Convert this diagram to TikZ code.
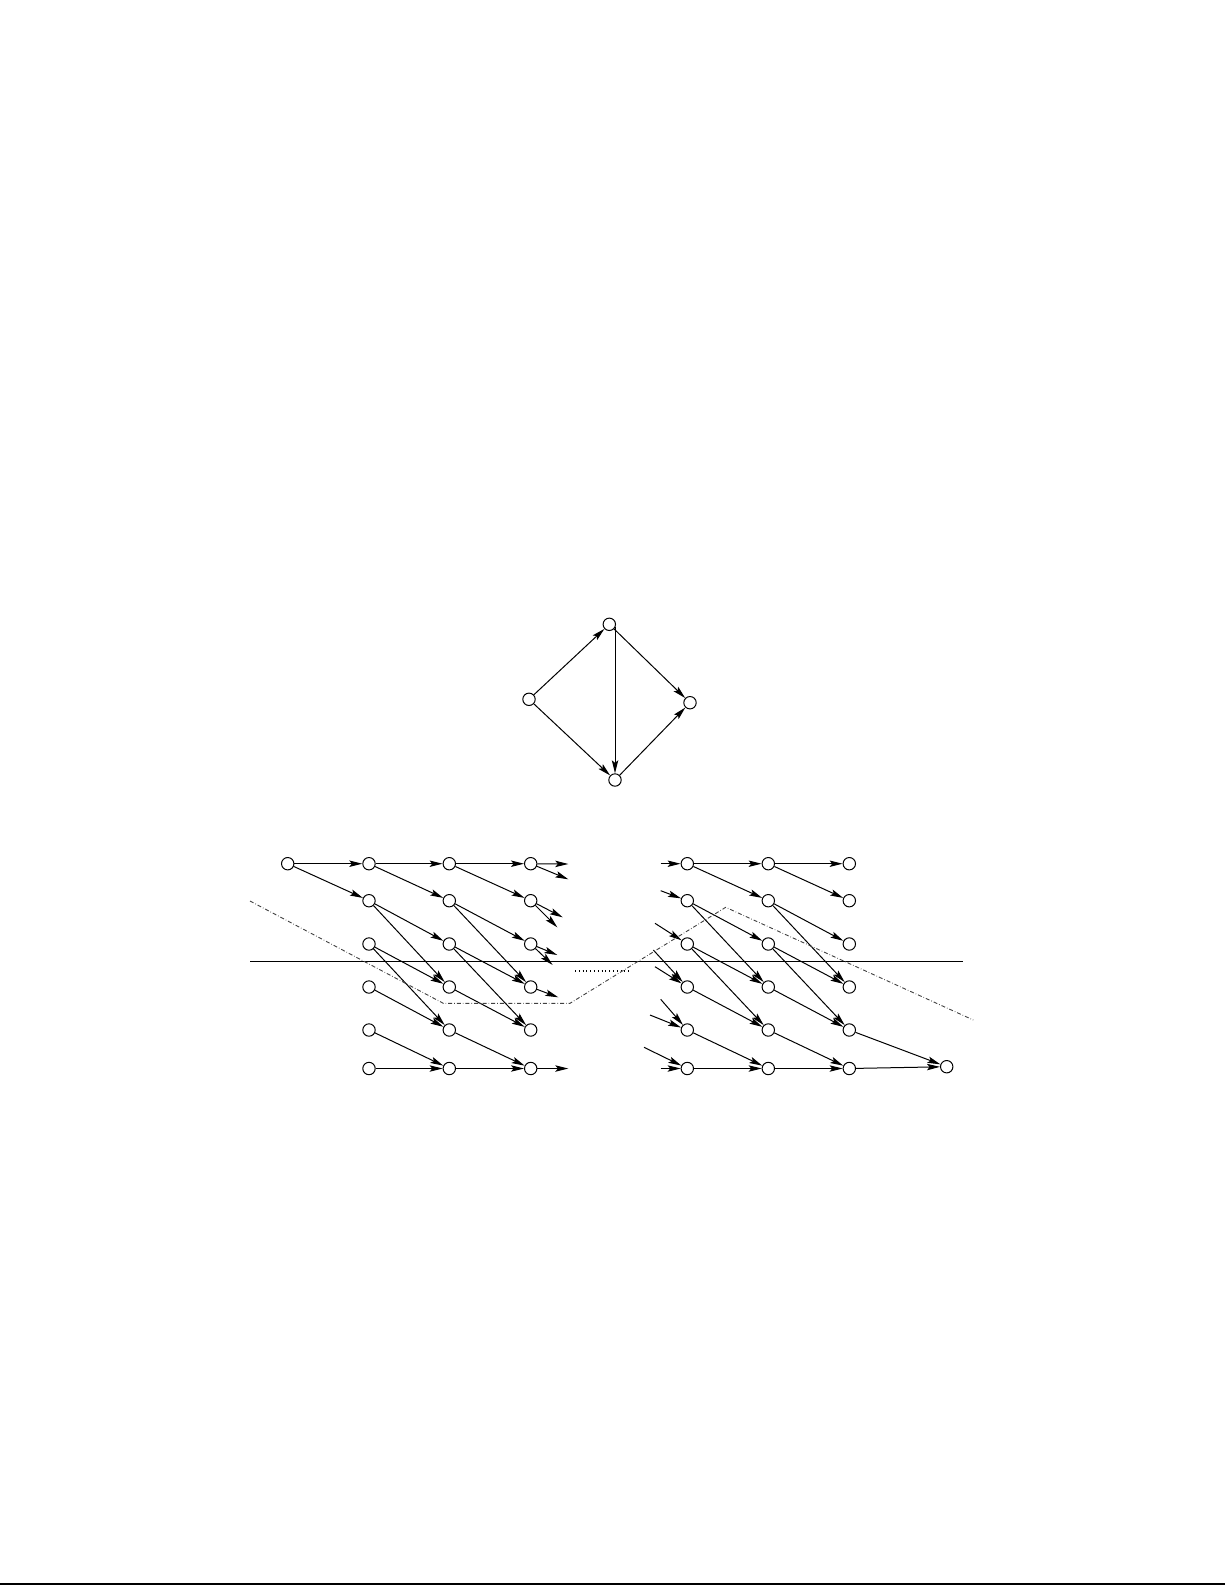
\documentclass[tikz,border=0pt]{standalone}
\usetikzlibrary{arrows.meta}
\begin{document}
\begin{tikzpicture}[x=0.5pt,y=-0.5pt,
  vtx/.style={circle,draw,line width=0.5pt,minimum size=6.2pt,inner sep=0pt},
  edge/.style={line width=0.5pt,-{Stealth[length=6.5pt,width=3.2pt,inset=1.3pt]}},
  cut/.style={line width=0.7pt},
  dashdot/.style={line width=0.45pt,black!75,dash pattern=on 2pt off 1pt on 0.3pt off 1pt},
  dots/.style={line width=0.6pt,dash pattern=on 0.5pt off 1.4pt}]
\useasboundingbox (0,0) rectangle (1225,1585);
% page rule
\coordinate (pl) at (0,1583.7); \coordinate (pr) at (1225,1583.7);
\draw[line width=1pt] (pl) -- (pr);
% ---------- diamond ----------
\node[vtx] (dt) at (609.3,624.3) {};
\node[vtx] (dl) at (529,699.3) {};
\node[vtx] (dr) at (690,702.7) {};
\node[vtx] (db) at (615,780) {};
\draw[edge] (dl) -- (dt);
\draw[edge] (dl) -- (db);
\draw[edge] (db |- dt.-25) -- (db);
\draw[edge] (dt) -- (dr);
\draw[edge] (db) -- (dr);
% ---------- lattice ----------
\def\rowy#1{\ifcase#1 863.7\or 900.7\or 944\or 987\or 1030\or 1068.5\fi}
\node[vtx] (a00) at (287.7,863.7) {};
\foreach \c/\x in {1/369,2/449.3,3/530.7,4/687.3,5/768.3,6/849.3}{
  \foreach \r in {0,...,5}{
    \node[vtx] (a\r\c) at (\x,\rowy{\r}) {};
  }
}
\node[vtx] (a57) at (946.7,1066.7) {};
% block edges
\foreach \s/\t in {00/01,00/11,01/02,01/12,02/03,02/13,
  11/22,11/32,12/23,12/33,21/32,21/42,22/33,22/43,
  31/42,32/43,41/52,42/53,51/52,52/53,
  04/05,04/15,05/06,05/16,14/25,14/35,15/26,15/36,
  24/35,24/45,25/36,25/46,34/45,35/46,44/55,45/56,
  54/55,55/56,56/57,46/57}{
  \draw[edge] (a\s) -- (a\t);
}
% outgoing stubs
\coordinate (o1) at (568.3,864);
\coordinate (o2) at (568.3,879.3);
\coordinate (o3) at (562.7,917.3);
\coordinate (o4) at (557.3,927.3);
\coordinate (o5) at (557.3,955);
\coordinate (o6) at (552.7,965);
\coordinate (o7) at (558.3,997.3);
\coordinate (o8) at (568.3,1068.5);
\foreach \s/\t in {03/o1,03/o2,13/o3,13/o4,23/o5,23/o6,33/o7,53/o8}{
  \draw[edge] (a\s) -- (\t);
}
% incoming stubs
\coordinate (i1) at (660.7,863.7);
\coordinate (i2) at (660.7,890.7);
\coordinate (i3) at (655,923.3);
\coordinate (i4) at (655,966.7);
\coordinate (i5) at (653.3,950);
\coordinate (i6) at (650,1015);
\coordinate (i7) at (660.7,999.3);
\coordinate (i8) at (644,1047.3);
\coordinate (i9) at (660.7,1068.5);
\foreach \s/\t in {i1/04,i2/14,i3/24,i4/34,i5/34,i6/44,i7/44,i8/54,i9/54}{
  \draw[edge] (\s) -- (a\t);
}
% horizontal cut line
\coordinate (hl) at (250,961.3); \coordinate (hr) at (963.3,961.3);
\draw[cut] (hl) -- (hr);
% dotted segment
\coordinate (dl1) at (575,971); \coordinate (dl2) at (631.7,971);
\draw[dots] (dl1) -- (dl2);
% dash-dot path
\coordinate (p1) at (250,901);
\coordinate (p2) at (443.3,1003.3);
\coordinate (p3) at (570,1003.3);
\coordinate (p4) at (725.7,907.3);
\coordinate (p5) at (973.3,1020);
\draw[dashdot] (p1) -- (p2) -- (p3) -- (p4) -- (p5);
\end{tikzpicture}
\end{document}
